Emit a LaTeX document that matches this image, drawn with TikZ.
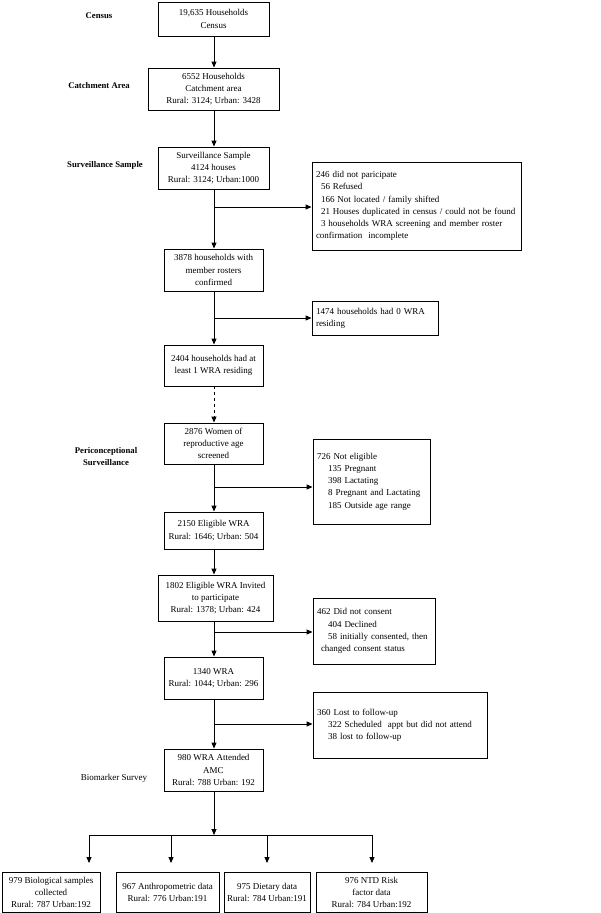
\documentclass[tikz,border=0pt]{standalone}
\usepackage{fontspec}
\setmainfont{Liberation Serif}
\usetikzlibrary{arrows.meta,calc}
\begin{document}
\begin{tikzpicture}[x=1pt,y=-1pt,
  every node/.style={font=\fontsize{9}{12.2}\selectfont},
  box/.style={draw,line width=0.9pt,align=center,inner sep=0pt},
  side/.style={draw,line width=0.9pt,align=left,inner xsep=4pt,inner ysep=0pt},
  lab/.style={align=center,font=\fontsize{8.7}{12.5}\selectfont\bfseries},
  arr/.style={line width=0.9pt,-{Triangle[length=6pt,width=5pt]}},
  ln/.style={line width=0.9pt}]
\useasboundingbox (0,0) rectangle (600,913);
% main column
\node[box,minimum width=111,minimum height=34] (census) at (213.5,19) {19,635 Households\\Census};
\node[box,minimum width=131,minimum height=42] (catch) at (213.5,89) {6552 Households\\Catchment area\\Rural: 3124; Urban: 3428};
\node[box,minimum width=111,minimum height=42] (surv) at (213.5,168) {Surveillance Sample\\4124 houses\\Rural: 3124; Urban:1000};
\node[box,minimum width=99,minimum height=42] (n3878) at (213.5,270) {3878 households with\\member rosters\\confirmed};
\node[box,minimum width=99,minimum height=41] (n2404) at (213.5,365.5) {2404 households had at\\least 1 WRA residing};
\node[box,minimum width=99,minimum height=41] (n2876) at (213.5,443.5) {2876 Women of\\reproductive age\\screened};
\node[box,minimum width=99,minimum height=37] (n2150) at (213.5,530.5) {2150 Eligible WRA\\Rural: 1646; Urban: 504};
\node[box,minimum width=115,minimum height=46] (n1802) at (215.5,598) {1802 Eligible WRA Invited\\to participate\\Rural: 1378; Urban: 424};
\node[box,minimum width=99,minimum height=42] (n1340) at (213.5,678) {1340 WRA\\Rural: 1044; Urban: 296};
\node[box,minimum width=99,minimum height=42] (n980) at (213.5,770) {980 WRA Attended\\AMC\\Rural: 788 Urban: 192};
% bottom boxes
\node[box,minimum width=98,minimum height=40] (b1) at (51,892.5) {979 Biological samples\\collected\\Rural: 787 Urban:192};
\node[box,minimum width=103,minimum height=40] (b2) at (167.5,892.5) {967 Anthropometric data\\Rural: 776 Urban:191};
\node[box,minimum width=86,minimum height=40] (b3) at (267,892.5) {975 Dietary data\\Rural: 784 Urban:191};
\node[box,minimum width=111,minimum height=40] (b4) at (371.5,892.5) {976 NTD Risk\\factor data\\Rural: 784 Urban:192};
% side boxes
\node[side,text width=201,minimum height=88] (s246) at (416.5,206) {246 did not paricipate\\
\hspace*{5pt}56 Refused\\
\hspace*{5pt}166 Not located / family shifted\\
\hspace*{5pt}21 Houses duplicated in census / could not be found\\
\hspace*{5pt}3 households WRA screening and member roster\\
confirmation\ \ incomplete};
\node[side,text width=118,minimum height=34] (s1474) at (375,318) {1474 households had 0 WRA\\residing};
\node[side,text width=109,minimum height=85] (s726) at (371.5,481.5) {726 Not eligible\\
\hspace*{11pt}135 Pregnant\\
\hspace*{11pt}398 Lactating\\
\hspace*{11pt}8 Pregnant and Lactating\\
\hspace*{11pt}185 Outside age range};
\node[side,text width=114,minimum height=66] (s462) at (374,631) {462 Did not consent\\
\hspace*{11pt}404 Declined\\
\hspace*{11pt}58 initially consented, then\\
\hspace*{4pt}changed consent status};
\node[side,text width=166,minimum height=66] (s360) at (400,725) {360 Lost to follow-up\\
\hspace*{11pt}322 Scheduled\ \ appt but did not attend\\
\hspace*{11pt}38 lost to follow-up};
% stage labels
\node[lab] (lcensus) at (99,16) {Census};
\node[lab] (lcatch) at (99,86) {Catchment Area};
\node[lab] (lsurv) at (105,165) {Surveillance Sample};
\node[lab] (lperi) at (106,456.5) {Periconceptional\\Surveillance};
\node[align=center] (lbio) at (114,778) {Biomarker Survey};
% branch points on the spine
\coordinate (br1) at (214,207);
\coordinate (br2) at (214,318);
\coordinate (br3) at (214,487);
\coordinate (br4) at (214,632);
\coordinate (br5) at (214,724);
\coordinate (bar) at (214,835);
\coordinate (barL) at (89,835);
\coordinate (barR) at (372,835);
\coordinate (t1) at (89,863);
\coordinate (t2) at (171,863);
\coordinate (t3) at (267,863);
\coordinate (t4) at (372,863);
% connectors
\draw[arr] (census.south -| br1) -- (catch.north -| br1);
\draw[arr] (catch.south -| br1) -- (surv.north -| br1);
\draw[arr] (surv.south -| br1) -- (n3878.north -| br1);
\draw[arr] (br1) -- (s246.west |- br1);
\draw[arr] (n3878.south -| br1) -- (n2404.north -| br1);
\draw[arr] (br2) -- (s1474.west |- br2);
\draw[arr,dashed] (n2404.south -| br1) -- (n2876.north -| br1);
\draw[arr] (n2876.south -| br1) -- (n2150.north -| br1);
\draw[arr] (br3) -- (s726.west |- br3);
\draw[arr] (n2150.south -| br1) -- (n1802.north -| br1);
\draw[arr] (n1802.south -| br1) -- (n1340.north -| br1);
\draw[arr] (br4) -- (s462.west |- br4);
\draw[arr] (n1340.south -| br1) -- (n980.north -| br1);
\draw[arr] (br5) -- (s360.west |- br5);
\draw[arr] (n980.south -| br1) -- (bar);
\draw[ln] (barL) -- (barR);
\draw[arr] (t1 |- bar) -- (t1);
\draw[arr] (t2 |- bar) -- (t2);
\draw[arr] (t3 |- bar) -- (t3);
\draw[arr] (t4 |- bar) -- (t4);
\end{tikzpicture}
\end{document}
